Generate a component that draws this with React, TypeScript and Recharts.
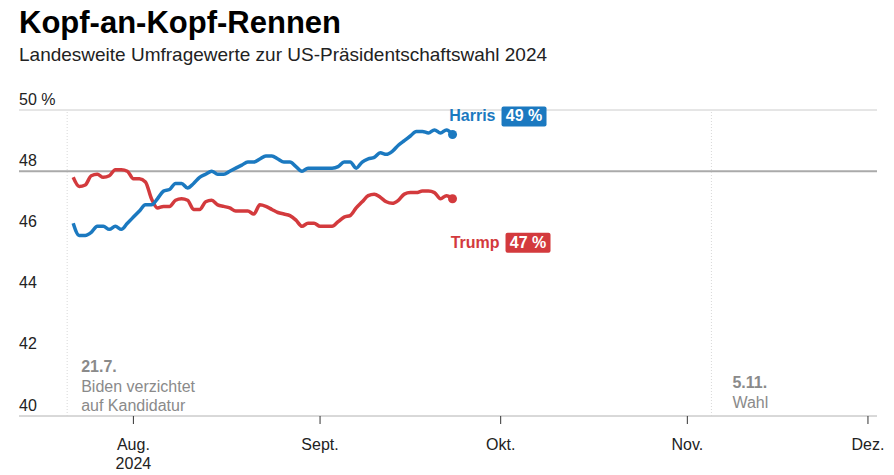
import { LineChart, Line, XAxis, YAxis, CartesianGrid, ReferenceLine } from "recharts";

const FONT = '"Liberation Sans", Arial, sans-serif';
const BLUE = "#1b79c0";
const RED = "#d33a3d";

// daily poll averages, starting 22.7.2024
const START = "2024-07-22";
const HARRIS = [
  46.3, 45.9, 45.9, 46.0, 46.2, 46.2, 46.1, 46.2, 46.1, 46.3,
  46.5, 46.7, 46.9, 46.9, 47.1, 47.35, 47.4, 47.6, 47.6, 47.45,
  47.6, 47.8, 47.9, 48.0, 47.9, 47.9, 48.0, 48.1, 48.2, 48.3,
  48.3, 48.4, 48.5, 48.5, 48.4, 48.3, 48.3, 48.15, 48.0, 48.1,
  48.1, 48.1, 48.1, 48.1, 48.15, 48.3, 48.3, 48.1, 48.3, 48.4,
  48.45, 48.6, 48.55, 48.65, 48.85, 49.0, 49.15, 49.3, 49.3, 49.25,
  49.35, 49.25, 49.35, 49.2,
];
const TRUMP = [
  47.8, 47.5, 47.55, 47.85, 47.9, 47.8, 47.85, 48.05, 48.05, 48.0,
  47.75, 47.75, 47.65, 47.1, 46.8, 46.85, 46.85, 47.05, 47.1, 47.05,
  46.75, 46.75, 47.0, 47.05, 46.9, 46.85, 46.8, 46.7, 46.7, 46.7,
  46.6, 46.9, 46.85, 46.75, 46.65, 46.6, 46.55, 46.4, 46.2, 46.3,
  46.3, 46.2, 46.2, 46.2, 46.35, 46.5, 46.55, 46.8, 47.0, 47.2,
  47.25, 47.15, 47.0, 46.95, 47.05, 47.25, 47.3, 47.3, 47.35, 47.35,
  47.3, 47.1, 47.2, 47.1,
];

const TICK_DATES = ["2024-08-01", "2024-09-01", "2024-10-01", "2024-11-01", "2024-12-01"];
const TICK_LABELS = ["Aug.", "Sept.", "Okt.", "Nov.", "Dez."];
const YEAR_LABEL = "2024";
const Y_TICKS = [40, 42, 44, 46, 48, 50];
const Y_LABELS = ["40", "42", "44", "46", "48", "50 %"];

const EVENT_DATES = ["2024-07-21", "2024-11-05"];
const EVENT_TITLES = ["21.7.", "5.11."];
const EVENT_TEXT = [["Biden verzichtet", "auf Kandidatur"], ["Wahl"]];

const DAY = 86400000;
const dayOf = (iso: string) => Math.round(Date.parse(iso + "T00:00:00Z") / DAY);

const data = HARRIS.map((h, i) => ({ t: dayOf(START) + i, harris: h, trump: TRUMP[i] }));
const X_DOMAIN = [dayOf("2024-07-13"), dayOf("2024-12-02") + 0.5];

const yLabel = (text: string) => (props: any) => {
  const { viewBox } = props;
  return (
    <text x={viewBox.x} y={viewBox.y - 5.5} fontSize={16} fill="#222" fontFamily={FONT}>
      {text}
    </text>
  );
};

const XTick = (props: any) => {
  const { x, y, payload, index } = props;
  const i = TICK_DATES.findIndex((d) => dayOf(d) === payload.value);
  return (
    <g>
      <text x={x} y={y + 24} textAnchor="middle" fontSize={16} fill="#222" fontFamily={FONT}>
        {TICK_LABELS[i]}
      </text>
      {index === 0 && (
        <text x={x} y={y + 43} textAnchor="middle" fontSize={16} fill="#222" fontFamily={FONT}>
          {YEAR_LABEL}
        </text>
      )}
    </g>
  );
};

const eventLabel = (k: number, dx: number, dys: number[]) => (props: any) => {
  const { viewBox } = props;
  const bottom = viewBox.y + viewBox.height;
  const x = viewBox.x + dx;
  return (
    <g fontFamily={FONT} fontSize={16} fill="#8a8a8a">
      <text x={x} y={bottom + dys[0]} fontWeight="bold">{EVENT_TITLES[k]}</text>
      {EVENT_TEXT[k].map((s, j) => (
        <text key={j} x={x} y={bottom + dys[j + 1]}>{s}</text>
      ))}
    </g>
  );
};

const endDot = (color: string, name: string, pct: string, boxDx: number, dy: number) => (props: any) => {
  const { cx, cy, index } = props;
  if (index !== data.length - 1) return <g key={`d-${index}`} />;
  const bx = cx + boxDx;
  return (
    <g key={`d-${index}`} fontFamily={FONT} fontWeight="bold" fontSize={16}>
      <circle cx={cx} cy={cy} r={4.5} fill={color} />
      <text x={bx - 6} y={cy + dy} textAnchor="end" fill={color}>{name}</text>
      <rect x={bx} y={cy + dy - 15} width={45} height={20} rx={2} fill={color} />
      <text x={bx + 22.5} y={cy + dy} textAnchor="middle" fill="#fff">{pct}</text>
    </g>
  );
};

export default function App() {
  return (
    <div style={{ position: "relative", width: 886, height: 467, fontFamily: FONT }}>
      <LineChart
        width={886}
        height={467}
        data={data}
        margin={{ top: 102, right: 17, bottom: 19, left: 11 }}
        style={{ position: "absolute", left: 0, top: 0 }}
      >
        <CartesianGrid horizontal vertical={false} stroke="#cccccc" />
        <XAxis
          dataKey="t"
          type="number"
          domain={X_DOMAIN}
          ticks={TICK_DATES.map(dayOf)}
          height={40}
          axisLine={{ stroke: "#cccccc" }}
          tickLine={{ stroke: "#333" }}
          tickSize={8}
          tick={XTick}
          interval={0}
        />
        <YAxis
          width={0}
          domain={[40, 50]}
          ticks={Y_TICKS}
          axisLine={false}
          tickLine={false}
          tick={false}
          interval={0}
        />
        {Y_TICKS.map((v, i) => (
          <ReferenceLine
            key={v}
            y={v}
            stroke={v === 48 ? "#aaaaaa" : "none"}
            strokeWidth={2}
            label={yLabel(Y_LABELS[i])}
          />
        ))}
        <ReferenceLine
          x={dayOf(EVENT_DATES[0])}
          stroke="#d8d8d8"
          strokeDasharray="1 2"
          label={eventLabel(0, 14, [-44, -24, -5])}
        />
        <ReferenceLine
          x={dayOf(EVENT_DATES[1])}
          stroke="#d8d8d8"
          strokeDasharray="1 2"
          label={eventLabel(1, 21, [-28, -8])}
        />
        <Line
          dataKey="trump"
          type="monotone"
          stroke={RED}
          strokeWidth={3.5}
          dot={endDot(RED, "Trump", "47 %", 53, 49)}
          activeDot={false}
          isAnimationActive={false}
        />
        <Line
          dataKey="harris"
          type="monotone"
          stroke={BLUE}
          strokeWidth={3.5}
          dot={endDot(BLUE, "Harris", "49 %", 49, -13)}
          activeDot={false}
          isAnimationActive={false}
        />
      </LineChart>
      <div
        style={{
          position: "absolute",
          left: 11,
          top: -1,
          fontSize: 31,
          lineHeight: 1,
          fontWeight: "bold",
          color: "#000",
          whiteSpace: "nowrap",
        }}
      >
        Kopf-an-Kopf-Rennen
      </div>
      <div
        style={{
          position: "absolute",
          left: 11,
          top: 37,
          fontSize: 19,
          lineHeight: 1,
          color: "#222",
          whiteSpace: "nowrap",
        }}
      >
        Landesweite Umfragewerte zur US-Präsidentschaftswahl 2024
      </div>
    </div>
  );
}
